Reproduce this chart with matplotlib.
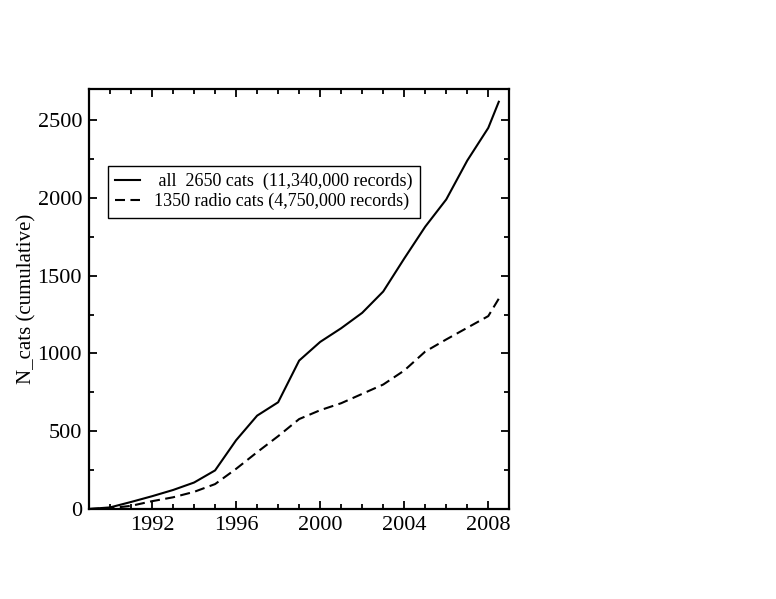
import matplotlib
matplotlib.use("Agg")
import matplotlib.pyplot as plt
from matplotlib.ticker import MultipleLocator

plt.rcParams['font.family'] = ['Liberation Serif', 'DejaVu Serif']

years = [1989, 1990, 1991, 1992, 1993, 1994, 1995, 1996, 1997, 1998, 1999,
         2000, 2001, 2002, 2003, 2004, 2005, 2006, 2007, 2008, 2008.5]
all_cats = [0, 10, 45, 82, 122, 170, 248, 442, 600, 686, 954,
            1074, 1162, 1261, 1398, 1610, 1815, 1990, 2240, 2450, 2618]
radio_cats = [0, 5, 20, 50, 75, 110, 160, 258, 365, 468, 578,
              635, 680, 740, 800, 890, 1012, 1090, 1165, 1240, 1352]
labels = [" all  2650 cats  (11,340,000 records)",
          "1350 radio cats (4,750,000 records)"]
x_ticks = [1992, 1996, 2000, 2004, 2008]
y_ticks = [0, 500, 1000, 1500, 2000, 2500]

fig = plt.figure(figsize=(7.76, 5.99), dpi=100)
ax = fig.add_axes([0.1147, 0.1503, 0.5416, 0.7011])

ax.plot(years, all_cats, color='black', lw=1.5, ls='-', label=labels[0])
ax.plot(years, radio_cats, color='black', lw=1.5, ls=(0, (4.8, 2.6)), label=labels[1])

ax.set_xlim(1989, 2009)
ax.set_ylim(0, 2700)
ax.set_xticks(x_ticks)
ax.set_yticks(y_ticks)
ax.xaxis.set_minor_locator(MultipleLocator(1))
ax.yaxis.set_minor_locator(MultipleLocator(250))
ax.tick_params(which='both', direction='in', top=True, right=True, width=1.3,
               labelsize=16, pad=5)
ax.tick_params(which='major', length=6)
ax.tick_params(which='minor', length=3.5)
for s in ax.spines.values():
    s.set_linewidth(1.6)

ax.set_ylabel("N_cats (cumulative)", fontsize=15, labelpad=1)

leg = ax.legend(loc='upper left', bbox_to_anchor=(0.045, 0.817), borderaxespad=0,
                fontsize=13, frameon=True, fancybox=False, handlelength=1.4,
                handletextpad=0.75, borderpad=0.4, labelspacing=0.15,
                edgecolor='black', framealpha=1)
leg.get_frame().set_linewidth(1.0)

fig.savefig("out.png", dpi=100)
